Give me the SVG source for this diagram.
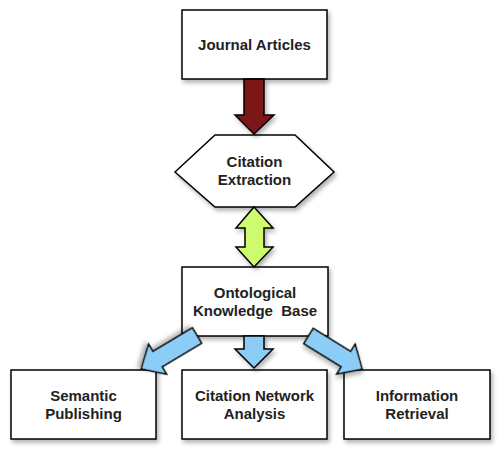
<svg xmlns="http://www.w3.org/2000/svg" width="500" height="449" viewBox="0 0 500 449">
<defs>
<filter id="sh" x="-20%" y="-20%" width="150%" height="150%">
<feDropShadow dx="2" dy="3" stdDeviation="2.2" flood-color="#000" flood-opacity="0.3"/>
</filter>
</defs>
<style>
.box{fill:#fff;stroke:#000;stroke-width:1.5;filter:url(#sh)}
.t{font-family:"Liberation Sans",Arial,sans-serif;font-weight:bold;font-size:15px;fill:#222;text-anchor:middle}
.arr{stroke:#000;stroke-width:1.5;stroke-linejoin:miter;filter:url(#sh)}
</style>
<rect width="500" height="449" fill="#fff"/>
<g id="journal">
<rect class="box" x="182" y="10" width="145" height="69"/>
<text class="t" x="254.5" y="50">Journal Articles</text>
</g>
<g id="extraction">
<polygon class="box" points="175,172 215,135 295,135 334,172 295,207 215,207"/>
<text class="t" x="254.5" y="167">Citation</text>
<text class="t" x="254.5" y="185">Extraction</text>
</g>
<g id="kb">
<rect class="box" x="182" y="267" width="146" height="69"/>
<text class="t" x="255" y="298">Ontological</text>
<text class="t" x="255" y="316">Knowledge&#160; Base</text>
</g>
<g id="semantic">
<rect class="box" x="11" y="370" width="145" height="69"/>
<text class="t" x="83.5" y="401">Semantic</text>
<text class="t" x="83.5" y="419">Publishing</text>
</g>
<g id="network">
<rect class="box" x="182" y="370" width="145" height="69"/>
<text class="t" x="254.5" y="401">Citation Network</text>
<text class="t" x="254.5" y="419">Analysis</text>
</g>
<g id="retrieval">
<rect class="box" x="344" y="370" width="146" height="69"/>
<text class="t" x="417" y="401">Information</text>
<text class="t" x="417" y="419">Retrieval</text>
</g>
<g id="connectors">
<polygon class="arr" fill="#7d1214" points="244,79 264,79 264,115 274,115 254,134 235,115 244,115"/>
<polygon class="arr" fill="#cdfa6e" points="254,207 273,228 264,228 264,247 273,247 254,267 236,247 245,247 245,228 236,228"/>
<polygon class="arr" fill="#8ccdf7" points="244,336 264,336 264,349 273,349 254,368 235,349 244,349"/>
<polygon class="arr" fill="#8ccdf7" transform="translate(197,335.5) rotate(149.1)" points="0,-9 46,-9 46,-17.5 65,0 46,17.5 46,9 0,9"/>
<polygon class="arr" fill="#8ccdf7" transform="translate(308.5,336) rotate(31.7)" points="0,-9 44,-9 44,-17.5 63,0 44,17.5 44,9 0,9"/>
</g>
</svg>
